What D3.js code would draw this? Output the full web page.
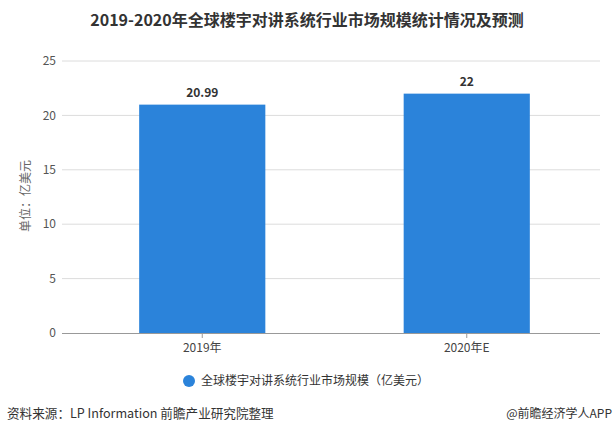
<!DOCTYPE html>
<html><head><meta charset="utf-8">
<script src="https://cdn.jsdelivr.net/npm/d3@7"></script>
<style>body{margin:0;background:#fff;}svg{display:block;font-family:"Noto Sans CJK SC","Noto Sans",sans-serif;}</style>
</head><body>
<script>
const categories = ["2019年", "2020年E"];
const values = [20.99, 22];
const valueLabels = ["20.99", "22"];
const yTicks = [0, 5, 10, 15, 20, 25];
const seriesName = "全球楼宇对讲系统行业市场规模（亿美元）";
const title = "2019-2020年全球楼宇对讲系统行业市场规模统计情况及预测";
const yTitle = "单位：亿美元";
const source = "资料来源：LP Information 前瞻产业研究院整理";
const credit = "@前瞻经济学人APP";

const W = 614, H = 436;
const svg = d3.select("body").append("svg").attr("width", W).attr("height", H);

const x = d3.scaleBand().domain(categories).range([70, 599]).padding(0);
const y = d3.scaleLinear().domain([0, 25]).range([333, 61]);
const barW = x.bandwidth() * 0.477;

svg.append("text").attr("x", 307).attr("y", 26).attr("text-anchor", "middle")
  .attr("font-size", 16).attr("font-weight", "bold").attr("fill", "#333").text(title);

// gridlines
svg.append("g").selectAll("line").data(yTicks.filter(d => d > 0)).join("line")
  .attr("x1", 62).attr("x2", 600).attr("y1", d => y(d)).attr("y2", d => y(d))
  .attr("stroke", "#dcdcdc").attr("stroke-width", 1);

// y labels
svg.append("g").selectAll("text").data(yTicks).join("text")
  .attr("x", 56).attr("y", d => y(d)).attr("dy", "0.35em").attr("text-anchor", "end")
  .attr("font-size", 12).attr("fill", "#555").text(d => d);

svg.append("text").attr("transform", "translate(26,196) rotate(-90)").attr("text-anchor", "middle")
  .attr("dy", "0.35em").attr("font-size", 12).attr("fill", "#666").text(yTitle);

// bars
svg.append("g").selectAll("rect").data(values).join("rect")
  .attr("x", (d, i) => x(categories[i]) + x.bandwidth() / 2 - barW / 2)
  .attr("width", barW).attr("y", d => y(d)).attr("height", d => y(0) - y(d))
  .attr("fill", "#2b83da");

svg.append("g").selectAll("text").data(values).join("text")
  .attr("x", (d, i) => x(categories[i]) + x.bandwidth() / 2).attr("y", d => y(d) - 8)
  .attr("text-anchor", "middle").attr("font-size", 12).attr("font-weight", "bold")
  .attr("fill", "#333").text((d, i) => valueLabels[i]);

// x axis
const xAxis = svg.append("g").attr("transform", `translate(0,${y(0)})`)
  .call(d3.axisBottom(x).tickSize(5).tickSizeOuter(0));
xAxis.select(".domain").attr("stroke", "#999").attr("d", "M62,0.5H600");
xAxis.selectAll(".tick line").attr("stroke", "#999");
xAxis.selectAll(".tick text").attr("font-size", 12).attr("fill", "#444").attr("dy", "0.9em")
  .attr("font-family", '"Noto Sans CJK SC",sans-serif');

// legend
svg.append("circle").attr("cx", 189).attr("cy", 381).attr("r", 6).attr("fill", "#2b83da");
svg.append("text").attr("x", 201).attr("y", 381).attr("dy", "0.35em").attr("font-size", 12)
  .attr("fill", "#333").text(seriesName);

// footer
svg.append("text").attr("x", 7).attr("y", 418).attr("font-size", 12.6).attr("fill", "#333").text(source);
svg.append("text").attr("x", 612).attr("y", 418).attr("text-anchor", "end").attr("font-size", 12).attr("fill", "#333").text(credit);
</script>
</body></html>
